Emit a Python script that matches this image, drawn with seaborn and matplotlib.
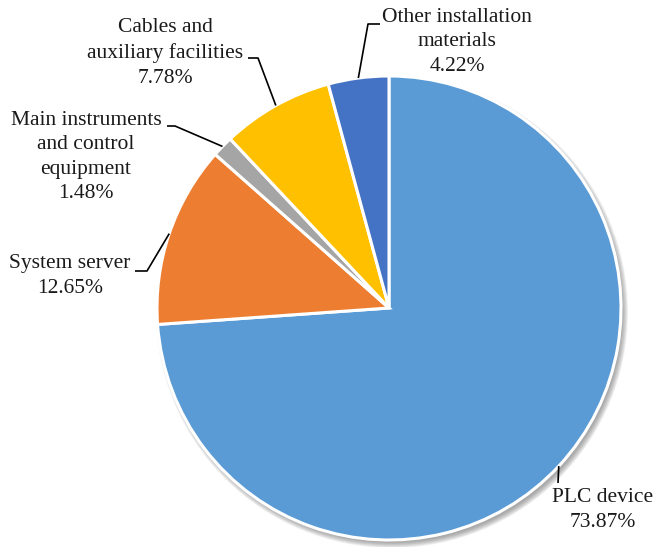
import numpy as np
import matplotlib
matplotlib.use("Agg")
import matplotlib.pyplot as plt
import matplotlib.patches as mpatches
import seaborn as sns

# Cost composition of the control system
categories = ["PLC device", "System server", "Main instruments\nand control\nequipment",
              "Cables and\nauxiliary facilities", "Other installation\nmaterials"]
shares = [73.87, 12.65, 1.48, 7.78, 4.22]
colors = ["#5B9BD5", "#ED7D31", "#A5A5A5", "#FFC000", "#4472C4"]

sns.set_theme(style="white")
plt.rcParams["font.family"] = ["Liberation Serif", "DejaVu Serif"]

W, H = 655, 547
fig = plt.figure(figsize=(W / 100, H / 100), dpi=100)
ax = fig.add_axes([0, 0, 1, 1])

cx, cy, R = 389, H - 308, 232

# soft drop shadow behind the pie
for k in range(8):
    ax.add_patch(mpatches.Circle((cx + 3, cy - 4), R + 4 - k * 0.8,
                                 color="#555555", alpha=0.08, lw=0, zorder=0))

wedges, _ = ax.pie(shares, colors=sns.color_palette(colors), startangle=90,
                   counterclock=False, center=(cx, cy), radius=R,
                   wedgeprops=dict(edgecolor="white", linewidth=2.2),
                   frame=True)
for w in wedges:
    w.set_zorder(2)

# label block centres and leader elbows (pixel layout, y downward)
label_pos = [(603, 510), (70, 276), (86, 157), (165, 53), (457, 42)]
elbows = [[(558, 483)],
          [(147, 271), (135, 271)],
          [(175, 126), (167, 126)],
          [(258, 58), (248, 58)],
          [(368, 24), (380, 24)]]

for w, name, val, (tx, ty), elb in zip(wedges, categories, shares, label_pos, elbows):
    mid = np.deg2rad((w.theta1 + w.theta2) / 2)
    px, py = cx + R * np.cos(mid), cy + R * np.sin(mid)
    xs = [px] + [e[0] for e in elb]
    ys = [py] + [H - e[1] for e in elb]
    ax.plot(xs, ys, color="black", lw=1.2, zorder=3, solid_capstyle="butt")
    ax.text(tx, H - ty, f"{name}\n{val:.2f}%", ha="center", va="center",
            fontsize=15.5, color="#1a1a1a", linespacing=1.4, zorder=4)

ax.set_xlim(0, W)
ax.set_ylim(0, H)
ax.set_aspect("equal")
ax.axis("off")

fig.savefig("out.png", dpi=100, facecolor="white")
